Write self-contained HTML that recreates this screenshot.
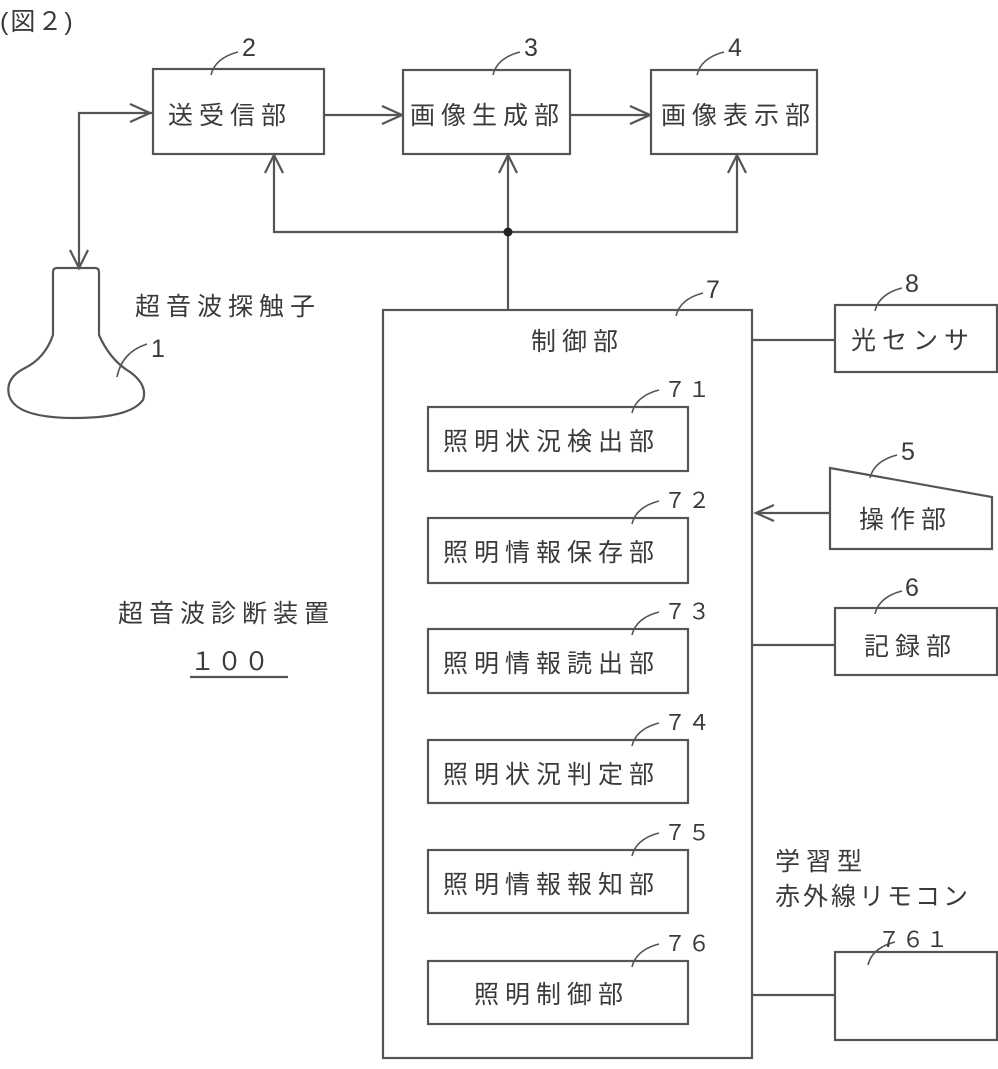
<!DOCTYPE html>
<html><head><meta charset="utf-8"><style>
html,body{margin:0;padding:0;background:#fff;}
svg text{font-family:"Liberation Sans","Noto Sans CJK JP",sans-serif;fill:#3a3a3a;}
.t{font-size:25px;letter-spacing:6px;}
</style></head><body>
<svg width="998" height="1064" viewBox="0 0 998 1064" xmlns="http://www.w3.org/2000/svg">
<g fill="none" stroke="#555" stroke-width="2.2">
<rect x="153" y="69" width="171" height="85"/>
<rect x="403" y="70" width="167" height="84"/>
<rect x="651" y="70" width="166" height="84"/>
<rect x="383" y="310" width="369" height="748"/>
<rect x="428" y="407" width="260" height="64"/>
<rect x="428" y="518" width="260" height="65"/>
<rect x="428" y="629" width="260" height="64"/>
<rect x="428" y="740" width="260" height="63"/>
<rect x="428" y="850" width="260" height="63"/>
<rect x="428" y="961" width="260" height="63"/>
<rect x="835" y="305" width="162" height="67"/>
<polygon points="830,468 992,497 992,549 830,549"/>
<rect x="835" y="608" width="162" height="67"/>
<rect x="835" y="952" width="162" height="88"/>
<line x1="324" y1="115" x2="402" y2="115"/>
<polyline points="382,106 402,115 382,124"/>
<line x1="570" y1="115" x2="650" y2="115"/>
<polyline points="630,106 650,115 630,124"/>
<polyline points="274,155 274,232 737,232 737,155"/>
<line x1="508" y1="155" x2="508" y2="310"/>
<polyline points="265,173 274,155 283,173"/>
<polyline points="499,173 508,155 517,173"/>
<polyline points="728,173 737,155 746,173"/>
<polyline points="79,268 79,113 152,113"/>
<polyline points="130,104 150,113 130,122"/>
<polyline points="70,250 79,268 88,250"/>
<line x1="752" y1="340" x2="835" y2="340"/>
<line x1="752" y1="645" x2="835" y2="645"/>
<line x1="752" y1="995" x2="835" y2="995"/>
<line x1="830" y1="513" x2="756" y2="513"/>
<polyline points="774,505 756,513 774,521"/>
<path d="M53,335 L53,272 Q53,268 57,268 L95,268 Q99,268 99,272 L99,335 Q110,360 130,372 Q148,385 143,400 Q130,418 75,418 Q15,418 9,395 Q5,378 25,368 Q45,358 53,335 Z"/>
<line x1="190" y1="677" x2="288" y2="677"/>
</g>
<g fill="none" stroke="#555" stroke-width="1.6">
<path d="M211,75 Q215,58 238,52"/>
<path d="M493,75 Q497,58 520,52"/>
<path d="M697,75 Q701,58 724,52"/>
<path d="M676,316 Q680,299 703,293"/>
<path d="M875,311 Q879,294 902,288"/>
<path d="M117,377 Q122,352 147,344"/>
<path d="M870,478 Q874,461 897,455"/>
<path d="M875,614 Q879,597 902,591"/>
<path d="M632,413 Q636,396 659,390"/>
<path d="M632,524 Q636,507 659,501"/>
<path d="M632,635 Q636,618 659,612"/>
<path d="M632,746 Q636,729 659,723"/>
<path d="M632,856 Q636,839 659,833"/>
<path d="M632,967 Q636,950 659,944"/>
<path d="M868,965 Q872,948 895,942"/>
</g>
<circle cx="508" cy="232" r="4.5" fill="#222"/>
<g class="t">
<text x="0" y="30" style="letter-spacing:2px">(図２)</text>
<text x="168" y="124">送受信部</text>
<text x="410" y="124">画像生成部</text>
<text x="661" y="124">画像表示部</text>
<text x="242" y="56">2</text>
<text x="524" y="56">3</text>
<text x="728" y="56">4</text>
<text x="706" y="298">7</text>
<text x="905" y="292">8</text>
<text x="151" y="357">1</text>
<text x="901" y="460">5</text>
<text x="905" y="596">6</text>
<text x="135" y="315">超音波探触子</text>
<text x="531" y="350">制御部</text>
<text x="851" y="349">光センサ</text>
<text x="859" y="528">操作部</text>
<text x="864" y="655">記録部</text>
<text x="118" y="622">超音波診断装置</text>
<text x="190" y="670" style="letter-spacing:2px">１００</text>
<text x="775" y="870">学習型</text>
<text x="775" y="905" style="letter-spacing:3px">赤外線リモコン</text>
<text x="878" y="947" style="font-size:22px;letter-spacing:2px">７６１</text>
<text x="443" y="450">照明状況検出部</text>
<text x="443" y="561">照明情報保存部</text>
<text x="443" y="672">照明情報読出部</text>
<text x="443" y="783">照明状況判定部</text>
<text x="443" y="893">照明情報報知部</text>
<text x="474" y="1003">照明制御部</text>
<text x="664" y="397" style="font-size:22px;letter-spacing:2px">７１</text>
<text x="664" y="508" style="font-size:22px;letter-spacing:2px">７２</text>
<text x="664" y="619" style="font-size:22px;letter-spacing:2px">７３</text>
<text x="664" y="730" style="font-size:22px;letter-spacing:2px">７４</text>
<text x="664" y="840" style="font-size:22px;letter-spacing:2px">７５</text>
<text x="664" y="951" style="font-size:22px;letter-spacing:2px">７６</text>
</g>
</svg>
</body></html>
